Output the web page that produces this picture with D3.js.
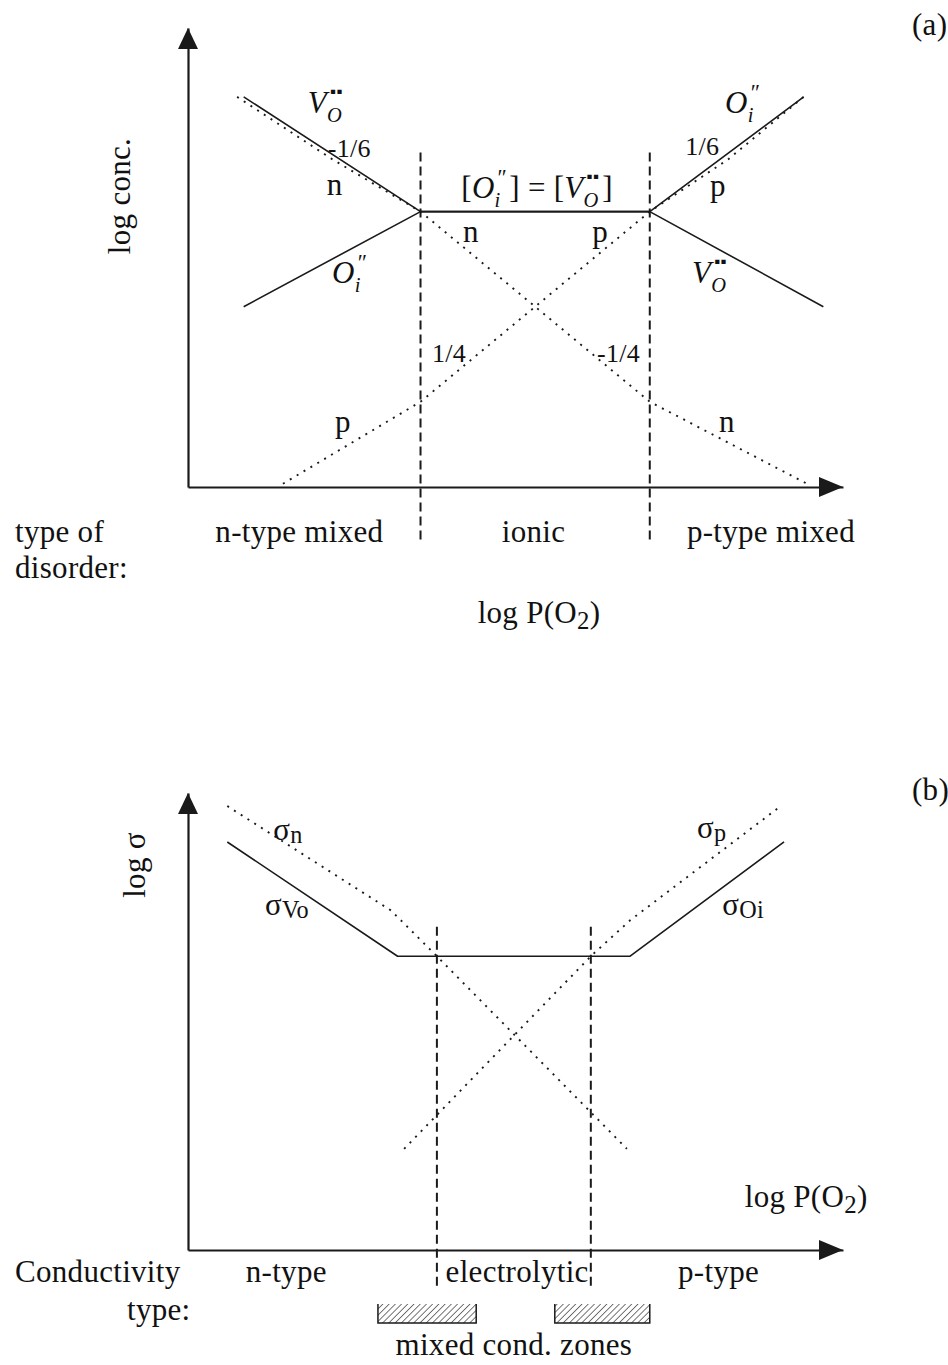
<!DOCTYPE html>
<html>
<head>
<meta charset="utf-8">
<script src="https://cdn.jsdelivr.net/npm/d3@7"></script>
<style>
  body { margin: 0; background: #fff; }
  svg text { font-family: "Liberation Serif", "Times New Roman", serif; fill: #111; letter-spacing: 0.3px; }
</style>
</head>
<body>
<svg id="chart" width="948" height="1365"></svg>
<script>
// ---------- (a) defect concentrations: [log P(O2), log conc.] ----------
const vacancyO      = [[1.7, 11.9], [7.1, 8.4], [14.1, 8.4], [19.4, 5.5]];
const interstitialO = [[1.7, 5.5], [7.1, 8.4], [14.1, 8.4], [18.8, 11.9]];
const electronsA    = [[1.5, 11.9], [4.4, 10.0], [7.1, 8.4], [14.1, 2.6], [18.9, 0.1]];
const holesA        = [[2.9, 0.1], [7.1, 2.6], [14.1, 8.4], [16.5, 10.0], [18.8, 11.9]];
const disorderBounds = [7.1, 14.1];
const disorderTypes  = ["n-type mixed", "ionic", "p-type mixed"];
const disorderLabelX = [3.4, 10.55, 17.8];

// ---------- (b) partial conductivities: [log P(O2), log σ] ----------
const sigmaIon = [[1.2, 12.5], [6.4, 9.0], [13.5, 9.0], [18.2, 12.5]];
const sigmaN   = [[1.2, 13.6], [6.2, 10.4], [7.6, 9.0], [13.4, 3.1]];
const sigmaP   = [[6.6, 3.1], [12.3, 9.0], [13.5, 10.1], [18.1, 13.6]];
const electrolyticBounds = [7.6, 12.3];
const conductivityTypes  = ["n-type", "electrolytic", "p-type"];
const conductivityLabelX = [3.0, 10.05, 16.2];
const mixedZones = [[5.8, 8.8], [11.2, 14.1]];

// ---------- layout ----------
const svg = d3.select("#chart");
const INK = "#1a1a1a";
const FS = 31;

const x  = d3.scaleLinear().domain([0, 20]).range([188, 843]);
const yA = d3.scaleLinear().domain([0, 14]).range([487, 28]);
const yB = d3.scaleLinear().domain([0, 14]).range([1250, 793]);

const defs = svg.append("defs");
defs.append("pattern")
  .attr("id", "hatch")
  .attr("patternUnits", "userSpaceOnUse")
  .attr("width", 4.4).attr("height", 4.4)
  .attr("patternTransform", "rotate(45)")
  .append("line")
  .attr("x1", 0).attr("y1", 0).attr("x2", 0).attr("y2", 4.4)
  .attr("stroke", INK).attr("stroke-width", 1.2);

// text made of pieces: normal, italic, subscripts, stacked superscripts
function rich(g, px, py, segs, opt = {}) {
  const size = opt.size || FS;
  const outer = g.append("g");
  const grp = outer.append("g");
  let cx = 0, prevStart = 0;
  segs.forEach(s => {
    const small = s.sub || s.sup;
    const fs = size * (s.scale || (small ? 0.66 : 1));
    const dy = s.sub ? size * (s.shift ?? 0.3) : s.sup ? -size * (s.shift ?? 0.42) : 0;
    const start = (s.stack ? prevStart : cx) + (s.dx || 0);
    const t = grp.append("text")
      .attr("x", start).attr("y", dy)
      .attr("font-size", fs)
      .style("font-style", s.it ? "italic" : "normal")
      .text(s.t);
    const w = t.node().getComputedTextLength();
    if (s.stack) cx = Math.max(cx, start + w);
    else { prevStart = start; cx = start + w; }
  });
  const shift = opt.anchor === "middle" ? -cx / 2 : opt.anchor === "end" ? -cx : 0;
  outer.attr("transform", `translate(${px},${py})` + (opt.rotate ? ` rotate(${opt.rotate})` : ""));
  grp.attr("transform", `translate(${shift},0)`);
  return outer;
}

// Kröger–Vink symbols
const VO = [{ t: "V", it: true }, { t: "O", it: true, sub: true, dx: 0 }, { t: "▪▪", sup: true, stack: true, dx: 3, scale: 0.55, shift: 0.52 }];
const OI = [{ t: "O", it: true }, { t: "i", it: true, sub: true }, { t: "″", sup: true, stack: true, dx: 3, scale: 0.72, shift: 0.42 }];
const LOGP = [{ t: "log P(O" }, { t: "2", sub: true, scale: 0.8, shift: 0.18 }, { t: ")" }];

function plain(g, px, py, txt, size = FS, anchor = "start") {
  return g.append("text").attr("x", px).attr("y", py).attr("font-size", size)
    .attr("text-anchor", anchor).text(txt);
}

function arrowAxes(g, ys) {
  const x0 = x.range()[0], x1 = x.range()[1];
  const y0 = ys.range()[0], y1 = ys.range()[1];
  const ax = g.append("g").attr("transform", `translate(0,${y0})`)
    .call(d3.axisBottom(x).tickValues([]).tickSizeOuter(0));
  const ay = g.append("g").attr("transform", `translate(${x0},0)`)
    .call(d3.axisLeft(ys).tickValues([]).tickSizeOuter(0));
  [ax, ay].forEach(a => a.select(".domain").attr("stroke", INK).attr("stroke-width", 2.2));
  g.append("path").attr("fill", INK)
    .attr("d", `M${x0},${y1}L${x0 - 10},${y1 + 21}L${x0 + 10},${y1 + 21}Z`);
  g.append("path").attr("fill", INK)
    .attr("d", `M${x1},${y0}L${x1 - 24},${y0 - 10}L${x1 - 24},${y0 + 10}Z`);
}

function series(g, data, ys, kind) {
  const line = d3.line().x(d => x(d[0])).y(d => ys(d[1]));
  const p = g.append("path").datum(data).attr("d", line)
    .attr("fill", "none").attr("stroke", INK);
  if (kind === "dot") p.attr("stroke-width", 1.9).attr("stroke-dasharray", "2,6");
  else p.attr("stroke-width", 1.6).attr("stroke-linejoin", "round");
}

function boundary(g, xv, ys, top, bottom) {
  g.append("line")
    .attr("x1", x(xv)).attr("x2", x(xv))
    .attr("y1", ys(top)).attr("y2", ys(bottom))
    .attr("stroke", INK).attr("stroke-width", 2).attr("stroke-dasharray", "9,5");
}

// ================= panel (a) =================
const ga = svg.append("g");
disorderBounds.forEach(b => boundary(ga, b, yA, 10.2, -1.6));
series(ga, electronsA, yA, "dot");
series(ga, holesA, yA, "dot");
series(ga, vacancyO, yA, "solid");
series(ga, interstitialO, yA, "solid");
arrowAxes(ga, yA);

rich(ga, x(3.66), yA(11.41), VO);
plain(ga, x(4.27), yA(10.06), "-1/6", 26);
plain(ga, x(4.24), yA(8.9), "n");
rich(ga, x(4.4), yA(6.22), OI);
rich(ga, x(10.66), yA(8.81), [{ t: "[" }].concat(OI, [{ t: "] = [", dx: 2 }], VO, [{ t: "]", dx: 3 }]), { anchor: "middle" });
plain(ga, x(8.4), yA(7.47), "n");
plain(ga, x(12.34), yA(7.47), "p");
rich(ga, x(16.4), yA(11.41), OI);
plain(ga, x(15.18), yA(10.13), "1/6", 26);
plain(ga, x(15.94), yA(8.87), "p");
rich(ga, x(15.39), yA(6.22), VO);
plain(ga, x(7.45), yA(3.81), "1/4", 26);
plain(ga, x(12.49), yA(3.81), "-1/4", 26);
plain(ga, x(4.49), yA(1.68), "p");
plain(ga, x(16.21), yA(1.68), "n");

rich(ga, 120, 196, [{ t: "log conc." }], { anchor: "middle", rotate: -90 }).select("text").attr("dy", "0.32em");
plain(ga, 912, 35, "(a)");
plain(ga, 15, 542, "type of");
plain(ga, 15, 578, "disorder:");
disorderTypes.forEach((t, i) => plain(ga, x(disorderLabelX[i]), 542, t, FS, "middle"));
rich(ga, 539, 623, LOGP, { anchor: "middle" });

// ================= panel (b) =================
const gb = svg.append("g");
electrolyticBounds.forEach(b => boundary(gb, b, yB, 9.9, -1.1));
series(gb, sigmaN, yB, "dot");
series(gb, sigmaP, yB, "dot");
series(gb, sigmaIon, yB, "solid");
arrowAxes(gb, yB);

const SIG = (sub) => [{ t: "σ" }, { t: sub, sub: true, scale: 0.78, shift: 0.1 }];
rich(gb, x(2.6), yB(12.56), SIG("n"));
rich(gb, x(2.35), yB(10.26), SIG("Vo"));
rich(gb, x(15.54), yB(12.62), SIG("p"));
rich(gb, x(16.31), yB(10.26), SIG("Oi"));
rich(gb, x(17.0), yB(1.32), LOGP);

rich(gb, 135, 865, [{ t: "log σ" }], { anchor: "middle", rotate: -90 }).select("text").attr("dy", "0.32em");
plain(gb, 912, 800, "(b)");
plain(gb, 15, 1282, "Conductivity");
plain(gb, 127, 1320, "type:");
conductivityTypes.forEach((t, i) => plain(gb, x(conductivityLabelX[i]), 1282, t, FS, "middle"));

const zoneTop = yB(0) + 54, zoneH = 19;
mixedZones.forEach(([a, b]) => {
  gb.append("rect")
    .attr("x", x(a)).attr("y", zoneTop)
    .attr("width", x(b) - x(a)).attr("height", zoneH)
    .attr("fill", "url(#hatch)");
  gb.append("path")
    .attr("d", `M${x(a)},${zoneTop}V${zoneTop + zoneH}H${x(b)}V${zoneTop}`)
    .attr("fill", "none").attr("stroke", INK).attr("stroke-width", 1.5);
});
plain(gb, (x(mixedZones[0][0]) + x(mixedZones[1][1])) / 2, 1355, "mixed cond. zones", FS, "middle");
</script>
</body>
</html>
